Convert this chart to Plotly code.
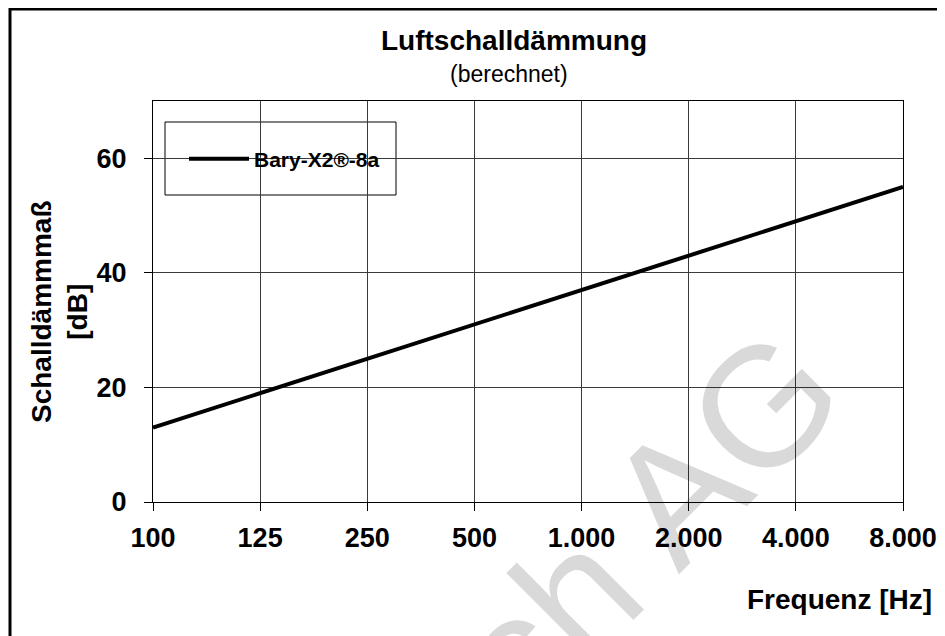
import plotly.graph_objects as go

# ---- data ----
freq_labels = ["100", "125", "250", "500", "1.000", "2.000", "4.000", "8.000"]
r_values = [13, 19, 25, 31, 37, 43, 49, 55]
series_name = "Bary-X2®-8a"
y_ticks = [0, 20, 40, 60]

FONT = "Liberation Sans, Arial, sans-serif"

fig = go.Figure()
fig.add_trace(go.Scatter(
    x=freq_labels, y=r_values, mode="lines", name=series_name,
    line=dict(color="black", width=4),
    showlegend=True,
))

# the page body adds an 8px offset; plot area on screen: x 153..903, y 101..502
OFF = 8
PL, PR, PT, PB = 153, 903, 101, 502
W, H = 945 - OFF, 636 - OFF
L, T = PL - OFF, PT - OFF
pw, ph = PR - PL, PB - PT
R, B = W - L - pw, H - T - ph


def sx(x):
    return (x - PL) / pw


def sy(y):
    return (PB - y) / ph


fig.update_layout(
    width=W, height=H,
    margin=dict(l=L, r=R, t=T, b=B, autoexpand=False),
    paper_bgcolor="white", plot_bgcolor="white",
    font=dict(family=FONT, color="black"),
    showlegend=True,
    legend=dict(
        x=sx(184), y=sy(159), xanchor="left", yanchor="middle",
        bgcolor="rgba(0,0,0,0)", borderwidth=0,
        font=dict(size=21, family=FONT, color="black", weight="bold"),
        itemwidth=60,
    ),
    xaxis=dict(
        type="category", categoryorder="array", categoryarray=freq_labels,
        range=[0, len(freq_labels) - 1],
        showgrid=True, gridcolor="#3a3a3a", gridwidth=1,
        showline=True, linecolor="black", linewidth=1, mirror=True,
        ticks="outside", ticklen=8, tickcolor="black", tickwidth=1,
        tickfont=dict(size=27, family=FONT, weight="bold"),
        ticklabelstandoff=4,
        zeroline=False,
    ),
    yaxis=dict(
        range=[0, 70], tickvals=y_ticks,
        showgrid=True, gridcolor="#3a3a3a", gridwidth=1,
        showline=True, linecolor="black", linewidth=1, mirror=True,
        ticks="outside", ticklen=8, tickcolor="black", tickwidth=1,
        tickfont=dict(size=27, family=FONT, weight="bold"),
        ticklabelstandoff=12,
        zeroline=True, zerolinecolor="black", zerolinewidth=2,
    ),
    shapes=[
        # legend box
        dict(type="rect", xref="paper", yref="paper",
             x0=sx(165), x1=sx(396), y0=sy(195), y1=sy(122),
             line=dict(color="black", width=1), fillcolor="white", layer="between"),
        # outer frame
        dict(type="rect", xref="paper", yref="paper",
             x0=sx(10), x1=sx(1000), y0=sy(700), y1=sy(9),
             line=dict(color="black", width=3), fillcolor="rgba(0,0,0,0)", layer="above"),
    ],
    annotations=[
        dict(text="<b>Luftschalldämmung</b>", xref="paper", yref="paper",
             x=sx(514), y=sy(40), xanchor="center", yanchor="middle",
             showarrow=False, font=dict(size=28, family=FONT)),
        dict(text="(berechnet)", xref="paper", yref="paper",
             x=sx(509), y=sy(74), xanchor="center", yanchor="middle",
             showarrow=False, font=dict(size=23, family=FONT)),
        dict(text="<b>Schalldämmmaß<br>[dB]</b>", xref="paper", yref="paper",
             x=sx(59), y=sy(312), xanchor="center", yanchor="middle",
             textangle=-90, showarrow=False, font=dict(size=28, family=FONT)),
        dict(text="<b>Frequenz [Hz]</b>", xref="paper", yref="paper",
             x=sx(934), y=sy(599), xanchor="right", yanchor="middle",
             showarrow=False, font=dict(size=28, family=FONT)),
        dict(text="Barytech AG", xref="paper", yref="paper",
             x=sx(473), y=sy(697), xanchor="center", yanchor="middle",
             textangle=-45, showarrow=False,
             font=dict(size=170, family=FONT, color="rgba(0,0,0,0.15)")),
    ],
)

fig.write_html("out.html")
